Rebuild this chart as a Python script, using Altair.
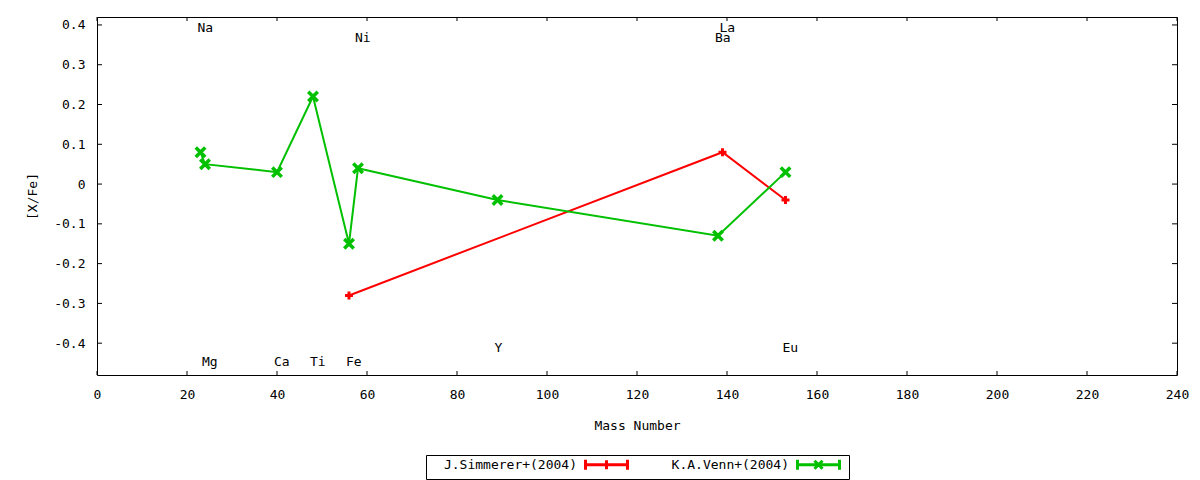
import altair as alt
import pandas as pd

# ---- data ----
simm_mass = [56, 139, 153]
simm_val = [-0.28, 0.08, -0.04]
venn_mass = [23, 24, 40, 48, 56, 58, 89, 138, 153]
venn_val = [0.08, 0.05, 0.03, 0.22, -0.15, 0.04, -0.04, -0.13, 0.03]
series_names = ["J.Simmerer+(2004)", "K.A.Venn+(2004)"]
series_colors = ["#ff0000", "#00c000"]

elements = ["Na", "Mg", "Ca", "Ti", "Fe", "Ni", "Y", "Ba", "La", "Eu"]
elem_mass = [23, 24, 40, 48, 56, 58, 89, 138, 139, 153]
elem_y = [0.3925, -0.4475, -0.4475, -0.4475, -0.4475, 0.3675, -0.4125, 0.3675, 0.3925, -0.4125]

x_ticks = [0, 20, 40, 60, 80, 100, 120, 140, 160, 180, 200, 220, 240]
y_ticks = [-0.4, -0.3, -0.2, -0.1, 0, 0.1, 0.2, 0.3, 0.4]

W, H = 1080, 358
FONT = "DejaVu Sans Mono"

df = pd.concat([
    pd.DataFrame({"mass": simm_mass, "val": simm_val, "series": series_names[0]}),
    pd.DataFrame({"mass": venn_mass, "val": venn_val, "series": series_names[1]}),
])
labels_df = pd.DataFrame({"mass": elem_mass, "val": elem_y, "el": elements})
xt_df = pd.DataFrame({"mass": x_ticks})
yt_df = pd.DataFrame({"val": y_ticks})
series_df = pd.DataFrame({"series": series_names})

xs = alt.Scale(domain=[0, 240], nice=False, zero=False)
ys = alt.Scale(domain=[-0.48, 0.42], nice=False, zero=False)

x_axis = alt.Axis(values=x_ticks, ticks=False, tickSize=0, domain=False, grid=False,
                  labelExpr="'' + datum.value", labelPadding=13, labelFlush=False,
                  title="Mass Number", titlePadding=18)
y_axis = alt.Axis(values=y_ticks, ticks=False, tickSize=0, domain=False, grid=False,
                  labelExpr="'' + datum.value", labelPadding=12, labelFlush=False,
                  title="[X/Fe]", titlePadding=14)

x_enc = alt.X("mass:Q", scale=xs, axis=x_axis)
y_enc = alt.Y("val:Q", scale=ys, axis=y_axis)

color_scale = alt.Scale(domain=series_names, range=series_colors)

plus_path = "M-1,0H1M0,-1V1"
x_path = "M-1,-1L1,1M-1,1L1,-1"
# legend sample: a line with end bars and the point marker in the middle,
# drawn to the right of the (right-aligned) label
legend_paths = [
    "M30,0H38.4M30,-1V1M38.4,-1V1M34.2,-0.9V0.9M33.3,0H35.1",
    "M30,0H38.4M30,-1V1M38.4,-1V1M33.4,-0.8L35,0.8M33.4,0.8L35,-0.8",
]

leg = alt.Legend(orient="none", legendX=329, legendY=438, direction="horizontal",
                 title=None, strokeColor="black", fillColor="white", padding=3,
                 labelFont=FONT, labelFontSize=13, labelColor="black",
                 labelAlign="right", labelOffset=135, symbolSize=100,
                 symbolStrokeWidth=3, symbolOpacity=1, columnPadding=7)

legend_layer = alt.Chart(series_df).transform_filter("false").mark_point(
    filled=False, strokeWidth=3, opacity=1
).encode(
    color=alt.Color("series:N", scale=color_scale, legend=leg),
    shape=alt.Shape("series:N", scale=alt.Scale(domain=series_names, range=legend_paths), legend=leg),
)

lines = alt.Chart(df).mark_line(strokeWidth=2).encode(
    x=x_enc, y=y_enc,
    color=alt.Color("series:N", scale=color_scale, legend=None),
)

pts_red = alt.Chart(df).transform_filter(
    alt.datum.series == series_names[0]
).mark_point(shape=plus_path, filled=False, strokeWidth=3, size=64, opacity=1,
             color=series_colors[0]).encode(x=x_enc, y=y_enc)

pts_green = alt.Chart(df).transform_filter(
    alt.datum.series == series_names[1]
).mark_point(shape=x_path, filled=False, strokeWidth=3.5, size=90, opacity=1,
             color=series_colors[1]).encode(x=x_enc, y=y_enc)

texts = alt.Chart(labels_df).mark_text(
    align="left", baseline="middle", dx=-3, font=FONT, fontSize=13, color="black"
).encode(x=x_enc, y=y_enc, text="el:N")

tick_bottom = alt.Chart(xt_df).mark_rule(color="black").encode(
    x=x_enc, y=alt.value(H), y2=alt.value(H - 4))
tick_top = alt.Chart(xt_df).mark_rule(color="black").encode(
    x=x_enc, y=alt.value(0), y2=alt.value(4))
tick_left = alt.Chart(yt_df).mark_rule(color="black").encode(
    y=y_enc, x=alt.value(0), x2=alt.value(5))
tick_right = alt.Chart(yt_df).mark_rule(color="black").encode(
    y=y_enc, x=alt.value(W), x2=alt.value(W - 5))

chart = alt.layer(
    legend_layer, lines, pts_red, pts_green, texts,
    tick_bottom, tick_top, tick_left, tick_right,
).properties(
    width=W, height=H,
    padding={"left": 89, "top": 9, "right": 15, "bottom": 105},
    autosize=alt.AutoSizeParams(type="none"),
).configure(
    font=FONT,
).configure_view(
    stroke="black", strokeWidth=1,
).configure_axis(
    labelFont=FONT, labelFontSize=13, labelColor="black",
    titleFont=FONT, titleFontSize=13, titleFontWeight="normal", titleColor="black",
)

chart.save("out.html", embed_options={"renderer": "svg", "actions": False})
